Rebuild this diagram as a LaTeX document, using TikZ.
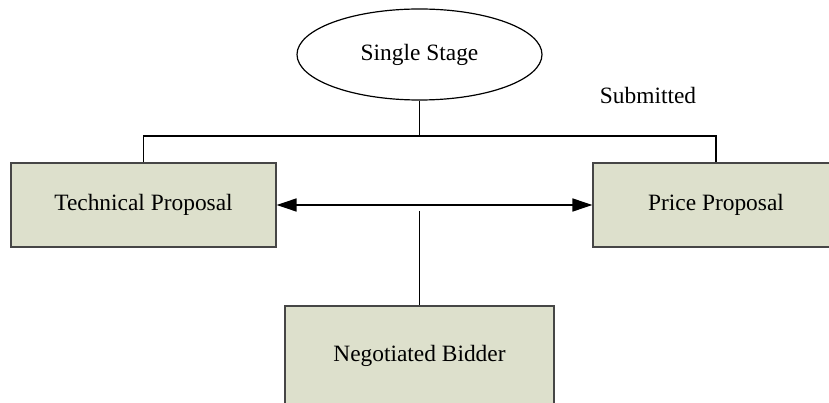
\documentclass[tikz,border=0pt]{standalone}
\usepackage{fontspec}
\setmainfont{Liberation Serif}
\usetikzlibrary{shapes.geometric,arrows.meta}
\definecolor{boxfill}{RGB}{221,224,204}
\definecolor{boxline}{RGB}{70,70,70}
\begin{document}
\begin{tikzpicture}[x=1pt,y=-1pt,
  font=\fontsize{23.4}{28}\selectfont,
  box/.style={draw=boxline, line width=1.2pt, fill=boxfill, inner sep=0pt},
  conn/.style={line width=1.6pt}]
\useasboundingbox (0,0) rectangle (829,403);
\clip (0,0) rectangle (829,403);
\node[ellipse, draw, line width=1.2pt, minimum width=245pt, minimum height=91pt, inner sep=0pt] (stage) at (419.5,54.5) {Single Stage};
\node[box, minimum width=265pt, minimum height=84pt] (tech) at (143.5,205) {Technical Proposal};
\node[box, minimum width=300pt, minimum height=84pt] (price) at (743,205) {};
\node (ptext) at (716,205) {Price Proposal};
\node[box, minimum width=269pt, minimum height=110pt] (neg) at (419.5,361) {};
\node (ntext) at (419.5,356) {Negotiated Bidder};
\node (sub) at (648,95) {Submitted};
\coordinate (bus) at (419.5,136);
\coordinate (mid) at (419.5,211);
\draw[conn] (stage.south) -- (bus);
\draw[conn] (tech.north) |- (bus) -| (ptext |- price.north);
\draw[conn, {Triangle[length=20pt,width=13pt]}-{Triangle[length=20pt,width=13pt]}] (tech.east) -- (price.west);
\draw[conn] (mid) -- (neg.north);
\end{tikzpicture}
\end{document}
